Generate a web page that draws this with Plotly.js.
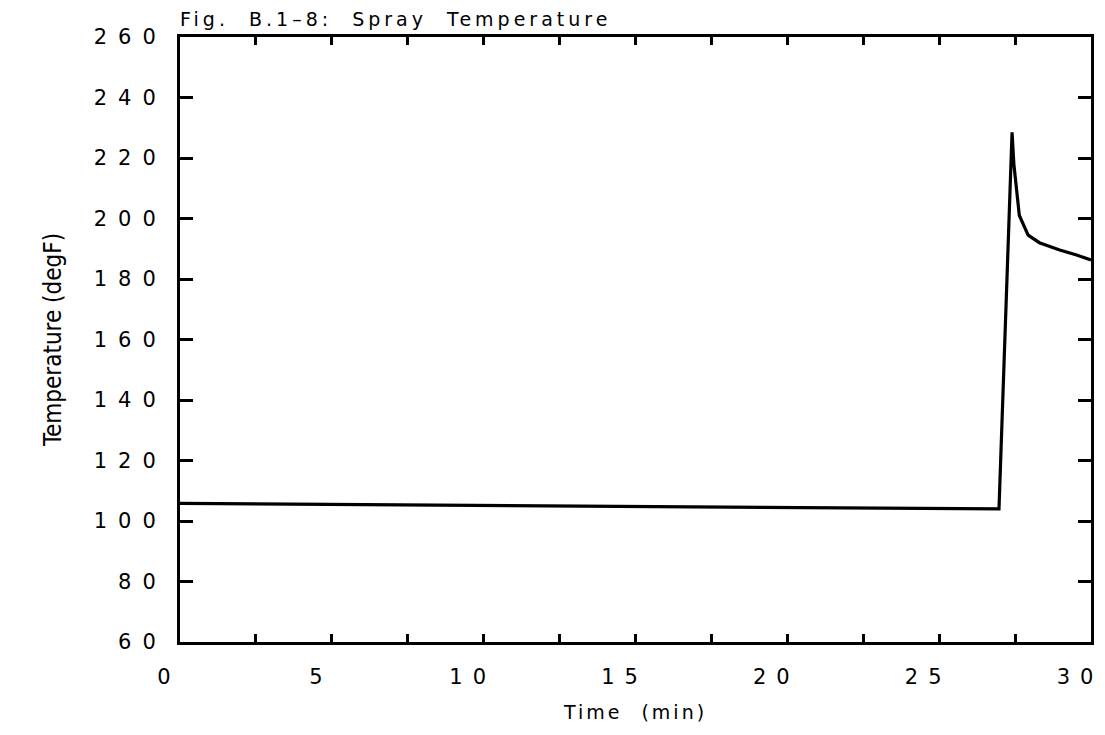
<!DOCTYPE html>
<html><head><meta charset="utf-8">
<script src="https://cdn.plot.ly/plotly-3.0.1.min.js"></script>
<style>
html,body{margin:0;padding:0;background:#fff;}
#chart{width:1105px;height:735px;}
.ytick text { letter-spacing: 11px; }
.xtick text { letter-spacing: 10px; }
.gtitle { letter-spacing: 4px; word-spacing: 10px; }
.xtitle { letter-spacing: 3px; word-spacing: 10px; }
</style></head><body><div id="chart"></div>
<script>
// Spray temperature vs time
const timeMin    = [0, 5, 10, 15, 20, 25, 26.97, 27.4, 27.46, 27.64, 27.93, 28.3, 28.97, 29.5, 30];
const sprayTempF = [105.8, 105.5, 105.2, 104.9, 104.6, 104.2, 104.0, 228.5, 218, 201, 194.5, 192, 189.6, 188, 186.3];

const xTickVals = [0, 2.5, 5, 7.5, 10, 12.5, 15, 17.5, 20, 22.5, 25, 27.5, 30];
const xTickText = ["0", "", "5", "", "10", "", "15", "", "20", "", "25", "", "30"];
const yTickVals = [60, 80, 100, 120, 140, 160, 180, 200, 220, 240, 260];
const yTickText = ["60", "80", "100", "120", "140", "160", "180", "200", "220", "240", "260"];

const figTitle = "Fig. B.1\u20138: Spray Temperature";
const xTitle = "Time (min)";
const yTitle = "Temperature (degF)";

const tickFont = {family: "DejaVu Sans, Verdana, sans-serif", size: 21, color: "#000"};

const trace = {
  x: timeMin, y: sprayTempF, type: "scatter", mode: "lines",
  line: {color: "#000", width: 3.2}, hoverinfo: "x+y", showlegend: false
};

const layout = {
  width: 1105, height: 735,
  paper_bgcolor: "#fff", plot_bgcolor: "#fff",
  margin: {l: 180, r: 14, t: 37, b: 93, pad: 0},
  title: {
    text: figTitle, x: 0, xref: "paper", xanchor: "left",
    y: 1 - 19/735, yref: "container", yanchor: "middle",
    font: {family: "DejaVu Sans, Verdana, sans-serif", size: 19, color: "#000"}
  },
  xaxis: {
    range: [0, 30], tickmode: "array", tickvals: xTickVals, ticktext: xTickText,
    ticks: "inside", ticklen: 8, tickwidth: 3, tickcolor: "#000",
    showline: true, linewidth: 3, linecolor: "#000", mirror: "ticks",
    showgrid: false, zeroline: false, tickfont: tickFont,
    ticklabelstandoff: 14, ticklabelshift: -11, ticklabeloverflow: "allow",
    title: {text: xTitle, standoff: 18,
      font: {family: "DejaVu Sans, Verdana, sans-serif", size: 19, color: "#000"}}
  },
  yaxis: {
    range: [60, 260], tickmode: "array", tickvals: yTickVals, ticktext: yTickText,
    ticks: "inside", ticklen: 13, tickwidth: 3, tickcolor: "#000",
    showline: true, linewidth: 3, linecolor: "#000", mirror: "ticks",
    showgrid: false, zeroline: false, tickfont: tickFont,
    ticklabelstandoff: 6, ticklabeloverflow: "allow",
    title: {text: yTitle, standoff: 26,
      font: {family: "Liberation Sans Narrow, DejaVu Sans Condensed, Arial Narrow, sans-serif", size: 24, color: "#000"}}
  }
};

Plotly.newPlot("chart", [trace], layout, {displayModeBar: false, staticPlot: true});
</script>
</body></html>
